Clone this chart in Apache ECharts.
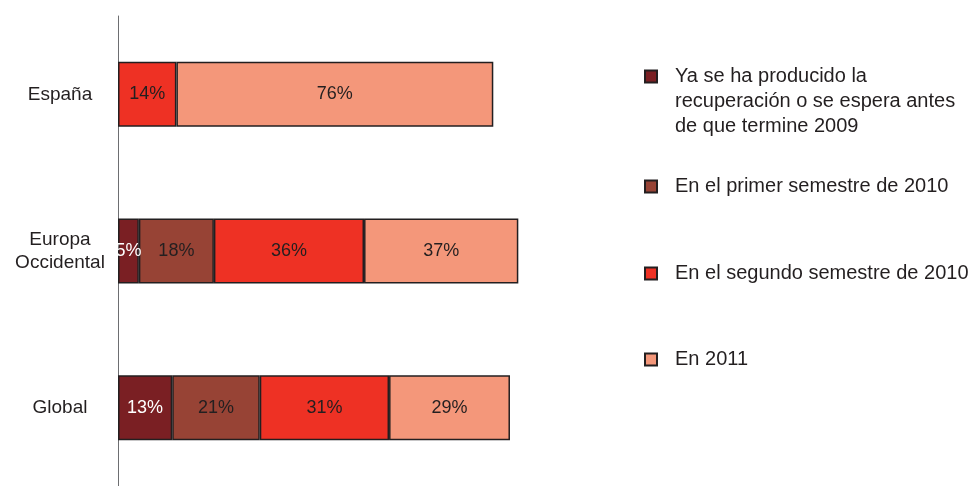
<!DOCTYPE html>
<html>
<head>
<meta charset="utf-8">
<script src="https://cdn.jsdelivr.net/npm/echarts@6/dist/echarts.min.js"></script>
<style>
html, body { margin: 0; padding: 0; background: #fff; }
#chart { width: 979px; height: 486px; }
</style>
</head>
<body>
<div id="chart"></div>
<script>
// categorias (de arriba a abajo)
const categories = ["España", "Europa\nOccidental", "Global"];
// nombres de las series
const seriesNames = [
  "Ya se ha producido la\nrecuperación o se espera antes\nde que termine 2009",
  "En el primer semestre de 2010",
  "En el segundo semestre de 2010",
  "En 2011"
];
// valores en %
const yaProducido = [null, 5, 13];
const primerSem2010 = [null, 18, 21];
const segundoSem2010 = [14, 36, 31];
const en2011 = [76, 37, 29];

const values = [yaProducido, primerSem2010, segundoSem2010, en2011];
const colors = ["#7a1f23", "#974335", "#ee3124", "#f4977a"];
const labelColors = ["#ffffff", "#231f20", "#231f20", "#231f20"];
const font = "'Liberation Sans', Arial, sans-serif";

let chart = echarts.init(document.getElementById("chart"));

// leyenda: una por serie para controlar la posicion vertical
const legendTops = [14, 174, 261, 347];
const legends = seriesNames.map(function (name, i) {
  return {
    data: [name],
    orient: "vertical",
    left: 644,
    top: legendTops[i],
    padding: 0,
    itemWidth: 12,
    itemHeight: 12,
    icon: "rect",
    selectedMode: false,
    // el primer texto empieza a la altura del cuadrado
    formatter: function (n) {
      return i === 0 ? "\n\n" + n : n;
    },
    textStyle: {
      fontFamily: font,
      fontSize: 20,
      color: "#231f20",
      lineHeight: 25,
      padding: [0, 0, 0, 13]
    }
  };
});

chart.setOption({
  animation: false,
  backgroundColor: "#ffffff",
  legend: legends,
  grid: {
    left: 118,
    width: 417,
    top: 16,
    height: 477
  },
  xAxis: {
    type: "value",
    min: 0,
    max: 100,
    show: false
  },
  yAxis: {
    type: "category",
    data: categories,
    inverse: true,
    axisLine: { show: true, lineStyle: { color: "#6d6e71", width: 1 } },
    axisTick: { show: false },
    axisLabel: {
      align: "center",
      margin: 58,
      fontFamily: font,
      fontSize: 19,
      lineHeight: 23,
      color: "#231f20"
    }
  },
  series: seriesNames.map(function (name, i) {
    return {
      name: name,
      type: "bar",
      stack: "total",
      barWidth: 65,
      data: values[i],
      itemStyle: {
        color: colors[i],
        borderColor: "#231f20",
        borderWidth: 1.5
      },
      label: {
        show: true,
        position: "inside",
        formatter: "{c}%",
        fontFamily: font,
        fontSize: 18,
        color: labelColors[i]
      }
    };
  })
});
</script>
</body>
</html>
